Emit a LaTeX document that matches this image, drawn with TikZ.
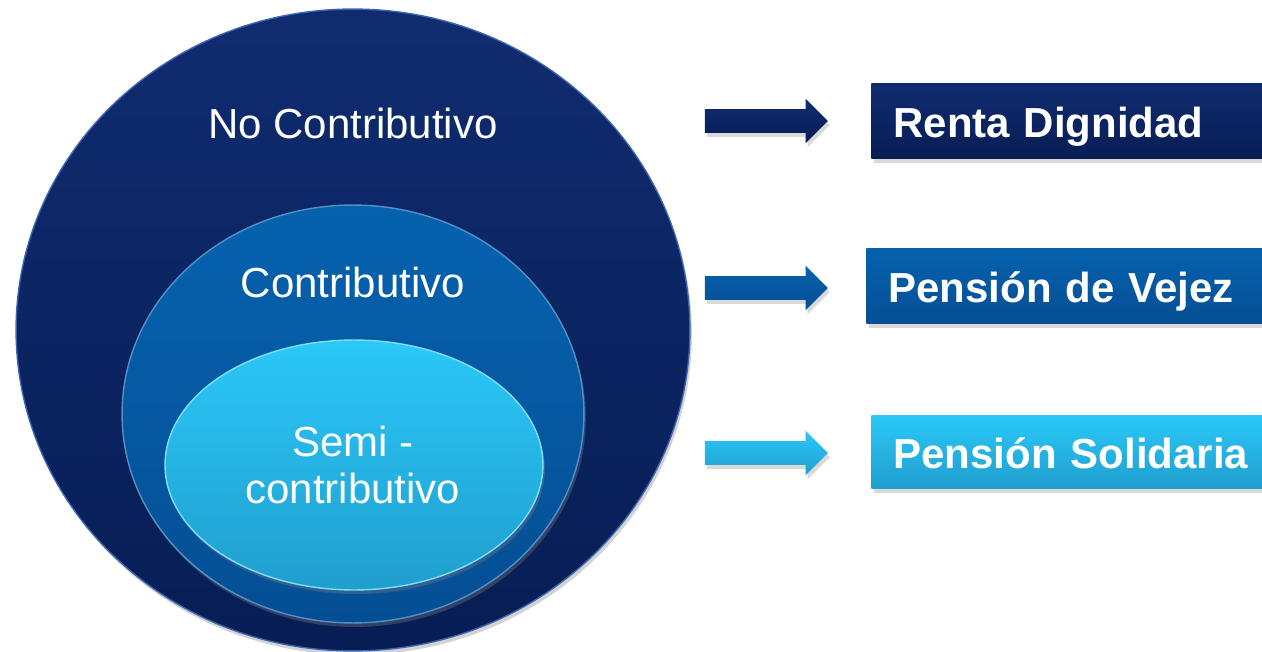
\documentclass[tikz,border=0pt]{standalone}
\usepackage{fontspec}
\setmainfont{Liberation Sans}
\usetikzlibrary{shapes.geometric,shapes.arrows,shadows}
\definecolor{deepblue}{RGB}{9,35,96}
\definecolor{deepblueTop}{RGB}{16,44,112}
\definecolor{deepblueBot}{RGB}{7,29,84}
\definecolor{midblue}{RGB}{6,98,174}
\definecolor{midblueBot}{RGB}{5,78,148}
\definecolor{skyblue}{RGB}{42,200,248}
\definecolor{skyblueBot}{RGB}{32,158,206}
\definecolor{rimblue}{RGB}{60,100,175}

\begin{document}
\begin{tikzpicture}[x=0.02cm,y=-0.02cm,
    label font/.style={font=\fontsize{23.9}{26.7}\selectfont},
    ring/.style={ellipse, inner sep=0pt,
      drop shadow={opacity=0.35, shadow xshift=0.04cm, shadow yshift=-0.08cm}},
    tag/.style={rectangle, anchor=west, inner ysep=0pt, inner xsep=0.44cm,
      minimum height=1.52cm, text height=0.82cm, text depth=0.14cm, text width=8cm,
      align=left, text=white, font=\fontsize{23.9}{26.7}\selectfont\bfseries,
      drop shadow={opacity=0.3, shadow xshift=0.06cm, shadow yshift=-0.08cm}},
    pointer/.style={single arrow, inner xsep=0pt, inner ysep=0.23cm, minimum height=2.46cm,
      minimum width=0.88cm, single arrow head extend=0.21cm,
      drop shadow={opacity=0.3, shadow xshift=0.04cm, shadow yshift=-0.08cm}}]
  \useasboundingbox (0,0) rectangle (1262,652);
  \clip (0,0) rectangle (1262,652);

  \node[ring, minimum width=13.48cm, minimum height=12.84cm,
    top color=deepblueTop, bottom color=deepblueBot, draw=rimblue, line width=0.8pt] (outer) at (353,330) {};
  \node[ring, minimum width=9.24cm, minimum height=8.36cm,
    top color=midblue, bottom color=midblueBot, draw=midblue!70!white, line width=0.8pt] (middle) at (353,414) {};
  \node[ring, minimum width=7.56cm, minimum height=5cm,
    top color=skyblue, bottom color=skyblueBot, draw=skyblue!60!white, line width=0.8pt] (inner) at (354,465) {};

  \node[label font, text=white, anchor=base] (outerText) at (353,139) {No Contributivo};
  \node[label font, text=white, anchor=base] (middleText) at (353,297) {Contributivo};
  \node[label font, text=white, align=center, anchor=base] (innerText) at (353,503) {Semi -\\contributivo};

  \node[pointer, top color=deepblueTop, bottom color=deepblueBot] (arrRenta) at (760.5,121) {};
  \node[pointer, top color=midblue, bottom color=midblueBot] (arrVejez) at (760.5,288) {};
  \node[pointer, top color=skyblue, bottom color=skyblueBot] (arrSolid) at (760.5,453) {};

  \node[tag, top color=deepblueTop, bottom color=deepblueBot] (renta) at (871,121) {Renta Dignidad};
  \node[tag, top color=midblue, bottom color=midblueBot] (vejez) at (866,286) {Pensión de Vejez};
  \node[tag, minimum height=1.48cm,
    top color=skyblue, bottom color=skyblueBot] (solid) at (871,452) {Pensión Solidaria};
\end{tikzpicture}
\end{document}
